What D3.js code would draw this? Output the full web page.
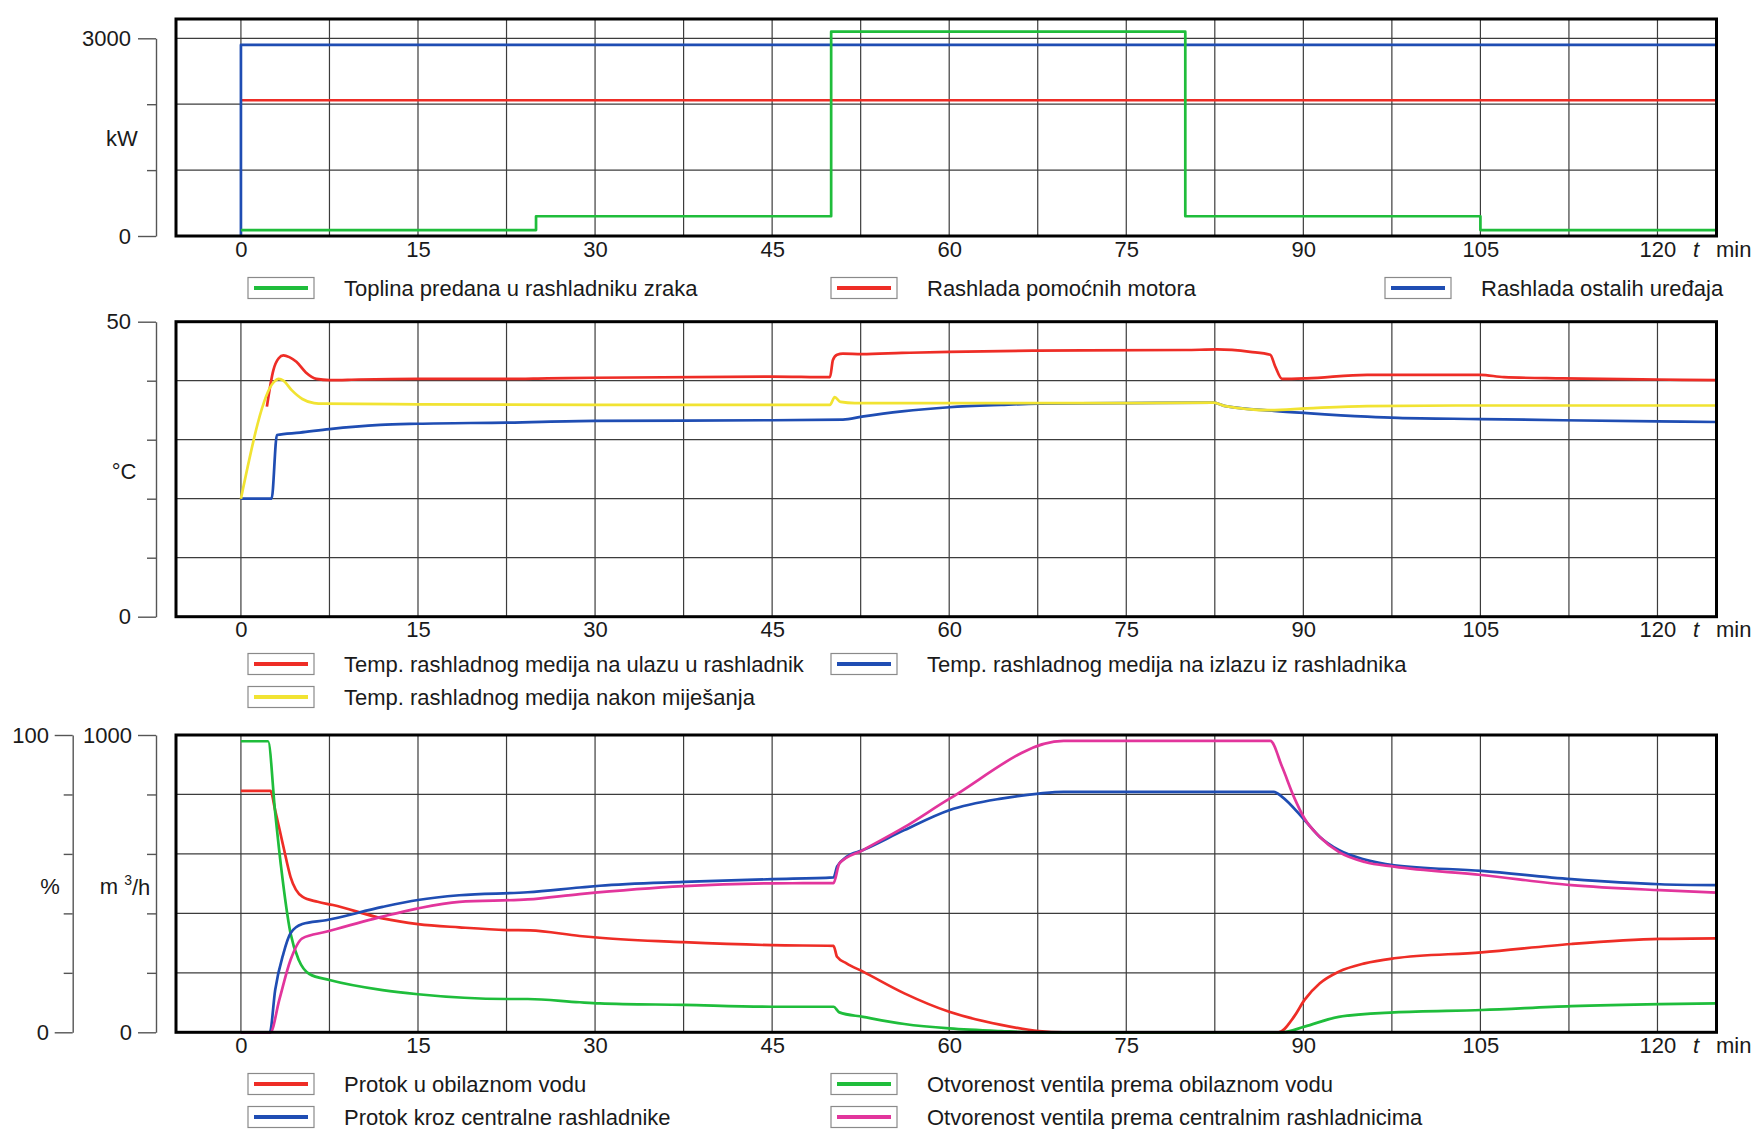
<!DOCTYPE html>
<html>
<head>
<meta charset="utf-8">
<script src="https://cdn.jsdelivr.net/npm/d3@7"></script>
<style>
  body { margin: 0; background: #fff; }
  text { font-family: "Liberation Sans", Arial, sans-serif; fill: #1a1a1a; }
</style>
</head>
<body>
<div id="chart"></div>
<script>
const width = 1759;
const height = 1129;

// time axis (min)
const timeTicks = [0, 15, 30, 45, 60, 75, 90, 105, 120];
const gridTimes = d3.range(0, 121, 7.5);

// panel 1 - heat load, kW  [t, value]
const toplinaZraka = [[0, 90], [25, 90], [25, 300], [50, 300], [50, 3100], [80, 3100], [80, 300], [105, 300], [105, 90], [125, 90]];
const pomocniMotori = [[0, 2060], [125, 2060]];
const ostaliUredaji = [[0, 0], [0, 2900], [125, 2900]];
const kwTicks = [0, 1000, 2000, 3000];

// panel 2 - temperatures, °C
const tempUlaz = [[2.2, 35.6], [2.75, 41.8], [3.2, 43.8], [3.6, 44.3], [4.1, 44.0], [4.7, 43.2], [5.5, 41.4], [6.4, 40.3], [7.5, 40.1],
  [10, 40.2], [15, 40.3], [22.5, 40.3], [26, 40.4], [30, 40.5], [45, 40.7], [49.9, 40.6], [50.15, 43.5], [50.5, 44.4], [51, 44.6], [52.6, 44.5],
  [56, 44.7], [60, 44.9], [67.5, 45.1], [80, 45.2], [82.7, 45.3], [85.5, 44.9], [87.2, 44.4], [87.6, 42.5], [88.2, 40.3], [90.3, 40.4],
  [95.4, 41.0], [105, 41.0], [107, 40.6], [112, 40.4], [120, 40.2], [125, 40.1]];
const tempIzlaz = [[0, 20], [2.6, 20], [3.05, 30.8], [5, 31.2], [7.5, 31.8], [11.8, 32.5], [15, 32.7], [22.5, 32.9], [30, 33.2], [45, 33.3],
  [51, 33.4], [52.6, 33.9], [56, 34.8], [60, 35.5], [64.4, 35.9], [67.5, 36.1], [75, 36.2], [82.4, 36.3], [83.4, 35.7], [87.5, 34.9],
  [90.3, 34.5], [95.4, 33.9], [98, 33.7], [105, 33.5], [112, 33.3], [120, 33.1], [125, 33.0]];
const tempMijesanje = [[0, 20], [2.8, 39.8], [3.2, 40.3], [3.6, 40.0], [4.3, 38.4], [5.2, 36.9], [6.2, 36.2], [7, 36.1], [15, 36.0], [30, 35.9],
  [45, 35.9], [49.9, 35.9], [50.3, 37.2], [50.8, 36.4], [52, 36.2], [60, 36.2], [75, 36.2], [82.4, 36.3], [83.4, 35.7], [87.2, 35.0],
  [90.3, 35.3], [95.4, 35.7], [105, 35.8], [125, 35.8]];
const tempTicks = [0, 10, 20, 30, 40, 50];

// panel 3 - flows (m3/h) and valve openings (%)
const protokObilazni = [[0, 812], [2.5, 812], [2.9, 747], [3.6, 624], [4.2, 523], [5.2, 456], [6.5, 439], [7.8, 428], [12, 383], [15, 364],
  [18.5, 353], [22.5, 344], [24.5, 343], [28.7, 324], [30.4, 318], [37.5, 303], [45, 293], [50.2, 291], [50.5, 254], [51.3, 232],
  [52.7, 204], [56.2, 131], [60, 69], [64.4, 25], [67.6, 4], [69.7, 0], [87.9, 0], [89.2, 52], [90.1, 109], [91.4, 165], [93, 204],
  [95.2, 232], [97.7, 249], [105.1, 269], [112.7, 297], [120.2, 314], [125, 316]];
const protokCentralni = [[0, 0], [2.45, 0], [2.9, 142], [3.6, 265], [4.2, 333], [5.2, 364], [7.2, 377], [12, 422], [15, 445], [18.5, 461],
  [24.3, 471], [28.7, 487], [30.4, 493], [37.5, 506], [45, 515], [50.2, 521], [50.5, 557], [51.3, 590], [52.7, 613], [56.2, 680],
  [60, 747], [64.4, 786], [67.6, 803], [69.7, 809], [87.5, 809], [88.2, 792], [90.1, 714], [91.4, 657], [93, 613], [95.2, 581],
  [97.7, 562], [105.1, 543], [112.7, 515], [120.2, 498], [125, 495]];
const ventilObilazni = [[0, 97.9], [2.3, 97.9], [2.9, 74], [3.4, 55.7], [4.2, 33.3], [4.9, 24.3], [5.8, 19.6], [7.5, 17.6], [12, 14.2],
  [15, 12.8], [22.5, 11.2], [24.3, 11.2], [28.7, 10.1], [30.4, 9.75], [37.5, 9.2], [45, 8.6], [50.2, 8.6], [50.7, 6.7], [52.7, 5.2],
  [56.2, 2.8], [60, 1.3], [64.4, 0.4], [67.6, 0], [88.2, 0], [90.1, 1.9], [93, 5.2], [97.7, 6.7], [105.1, 7.5], [112.7, 8.8],
  [120.2, 9.5], [125, 9.75]];
const ventilCentralni = [[0, 0], [2.5, 0], [3.25, 10.9], [4.2, 24.3], [5.2, 31.6], [7.2, 33.8], [12, 38.9], [15, 41.7], [18.5, 43.9],
  [24.3, 44.7], [28.7, 46.5], [37.5, 49.2], [45, 50.1], [50.2, 50.2], [50.7, 56.8], [52.7, 61.3], [56.2, 69], [60, 78.5], [69.7, 98],
  [87.2, 98], [88.2, 89.3], [89.2, 79.2], [90.1, 71.9], [91.4, 65.7], [93, 60.7], [95.2, 57.3], [97.7, 55.7], [105.1, 52.9],
  [112.7, 49.5], [120.2, 47.8], [125, 47.0]];
const flowTicks = [0, 200, 400, 600, 800, 1000];
const pctTicks = [0, 20, 40, 60, 80, 100];

// legend labels
const legend1 = ["Toplina predana u rashladniku zraka", "Rashlada pomoćnih motora", "Rashlada ostalih uređaja"];
const legend2 = ["Temp. rashladnog medija na ulazu u rashladnik", "Temp. rashladnog medija na izlazu iz rashladnika", "Temp. rashladnog medija nakon miješanja"];
const legend3 = ["Protok u obilaznom vodu", "Otvorenost ventila prema obilaznom vodu", "Protok kroz centralne rashladnike", "Otvorenost ventila prema centralnim rashladnicima"];

const GREEN = "#1fbd3b", RED = "#ee2d26", BLUE = "#1f4db3", YELLOW = "#f1e332", MAGENTA = "#e2359c";
const FS = 22;

const svg = d3.select("#chart").append("svg")
  .attr("width", width)
  .attr("height", height);

const x = d3.scaleLinear().domain([-5.5, 125]).range([176, 1716.5]);

function bracket(scale, ticks, axisX, labelRight) {
  const g = svg.append("g")
    .attr("transform", `translate(${axisX},0)`)
    .call(d3.axisLeft(scale).tickValues(ticks).tickSizeOuter(0).tickSizeInner(18)
      .tickPadding(axisX - labelRight - 18)
      .tickFormat((d, i) => (i === 0 || i === ticks.length - 1) ? d : ""));
  g.selectAll("path.domain").attr("stroke", "#555").attr("stroke-width", 1.4);
  g.selectAll(".tick line").attr("stroke", "#555").attr("stroke-width", 1.4)
    .attr("x2", (d, i) => (i === 0 || i === ticks.length - 1) ? -18 : -9);
  g.selectAll(".tick text").attr("font-size", FS).attr("font-family", null).attr("fill", "#1a1a1a");
  g.attr("font-family", null);
}

function panel(top, bottom, yDomain, gridVals, series, curve) {
  const y = d3.scaleLinear().domain(yDomain).range([bottom, top]);
  const g = svg.append("g");

  g.selectAll(".vg").data(gridTimes).enter().append("line")
    .attr("x1", d => x(d)).attr("x2", d => x(d))
    .attr("y1", top).attr("y2", bottom)
    .attr("stroke", "#3c3c3c").attr("stroke-width", 1.2);
  g.selectAll(".hg").data(gridVals).enter().append("line")
    .attr("x1", x.range()[0]).attr("x2", x.range()[1])
    .attr("y1", d => y(d)).attr("y2", d => y(d))
    .attr("stroke", "#3c3c3c").attr("stroke-width", 1.2);

  const line = d3.line().x(d => x(d[0])).y(d => y(d[1])).curve(curve);
  series.forEach(s => {
    g.append("path")
      .datum(s.data)
      .attr("d", line)
      .attr("fill", "none")
      .attr("stroke", s.color)
      .attr("stroke-width", 2.7)
      .attr("stroke-linejoin", "round");
  });

  g.append("rect")
    .attr("x", x.range()[0]).attr("y", top)
    .attr("width", x.range()[1] - x.range()[0]).attr("height", bottom - top)
    .attr("fill", "none").attr("stroke", "#000").attr("stroke-width", 3);

  const ax = g.append("g")
    .attr("transform", `translate(0,${bottom})`)
    .call(d3.axisBottom(x).tickValues(timeTicks).tickSize(0).tickPadding(5));
  ax.select("path.domain").remove();
  ax.attr("font-family", null);
  ax.selectAll("text").attr("font-size", FS).attr("fill", "#1a1a1a");

  const ly = bottom + 5 + FS * 0.355;
  g.append("text").attr("x", 1696).attr("y", ly).attr("dy", "0.35em")
    .attr("text-anchor", "middle").attr("font-style", "italic").attr("font-size", FS).text("t");
  g.append("text").attr("x", 1716).attr("y", ly).attr("dy", "0.35em")
    .attr("font-size", FS).text("min");
  return y;
}

function legend(labels, colors, positions) {
  const g = svg.append("g");
  labels.forEach((lab, i) => {
    const [lx, ly] = positions[i];
    g.append("rect").attr("x", lx).attr("y", ly - 10.5).attr("width", 66).attr("height", 21)
      .attr("fill", "#fff").attr("stroke", "#8a8a8a").attr("stroke-width", 1.2);
    g.append("line").attr("x1", lx + 6).attr("x2", lx + 60).attr("y1", ly).attr("y2", ly)
      .attr("stroke", colors[i]).attr("stroke-width", 4);
    g.append("text").attr("x", lx + 96).attr("y", ly).attr("dy", "0.35em")
      .attr("font-size", FS).text(lab);
  });
}

// ---- panel 1
const y1 = panel(19, 236, [0, 3293], [1000, 2000, 3000], [
  { data: pomocniMotori, color: RED },
  { data: ostaliUredaji, color: BLUE },
  { data: toplinaZraka, color: GREEN }
], d3.curveLinear);
bracket(d3.scaleLinear().domain([0, 3000]).range([y1(0), y1(3000)]), kwTicks, 156, 131);
svg.append("text").attr("x", 122).attr("y", y1(1480)).attr("dy", "0.35em")
  .attr("text-anchor", "middle").attr("font-size", FS).text("kW");
legend(legend1, [GREEN, RED, BLUE], [[248, 288], [831, 288], [1385, 288]]);

// ---- panel 2
const y2 = panel(321.7, 616.7, [0, 50], [10, 20, 30, 40], [
  { data: tempIzlaz, color: BLUE },
  { data: tempUlaz, color: RED },
  { data: tempMijesanje, color: YELLOW }
], d3.curveMonotoneX);
bracket(y2, tempTicks, 156, 131);
svg.append("text").attr("x", 124).attr("y", 471.7).attr("dy", "0.35em")
  .attr("text-anchor", "middle").attr("font-size", FS).text("°C");
legend(legend2, [RED, BLUE, YELLOW], [[248, 664], [831, 664], [248, 697]]);

// ---- panel 3
const y3 = panel(735, 1032.3, [0, 1000], [200, 400, 600, 800], [
  { data: protokObilazni, color: RED },
  { data: ventilObilazni.map(d => [d[0], d[1] * 10]), color: GREEN },
  { data: protokCentralni, color: BLUE },
  { data: ventilCentralni.map(d => [d[0], d[1] * 10]), color: MAGENTA }
], d3.curveMonotoneX);
bracket(y3, flowTicks, 156, 132);
bracket(d3.scaleLinear().domain([0, 100]).range(y3.range()), pctTicks, 72.7, 49);
svg.append("text").attr("x", 50).attr("y", 886.7).attr("dy", "0.35em")
  .attr("text-anchor", "middle").attr("font-size", FS).text("%");
const m3 = svg.append("text").attr("x", 125).attr("y", 886.7).attr("dy", "0.35em")
  .attr("text-anchor", "middle").attr("font-size", FS);
m3.append("tspan").text("m ");
m3.append("tspan").attr("font-size", 14).attr("dy", "-0.7em").text("3");
m3.append("tspan").attr("dy", "0.45em").text("/h");
legend(legend3, [RED, GREEN, BLUE, MAGENTA], [[248, 1084], [831, 1084], [248, 1117], [831, 1117]]);
</script>
</body>
</html>
